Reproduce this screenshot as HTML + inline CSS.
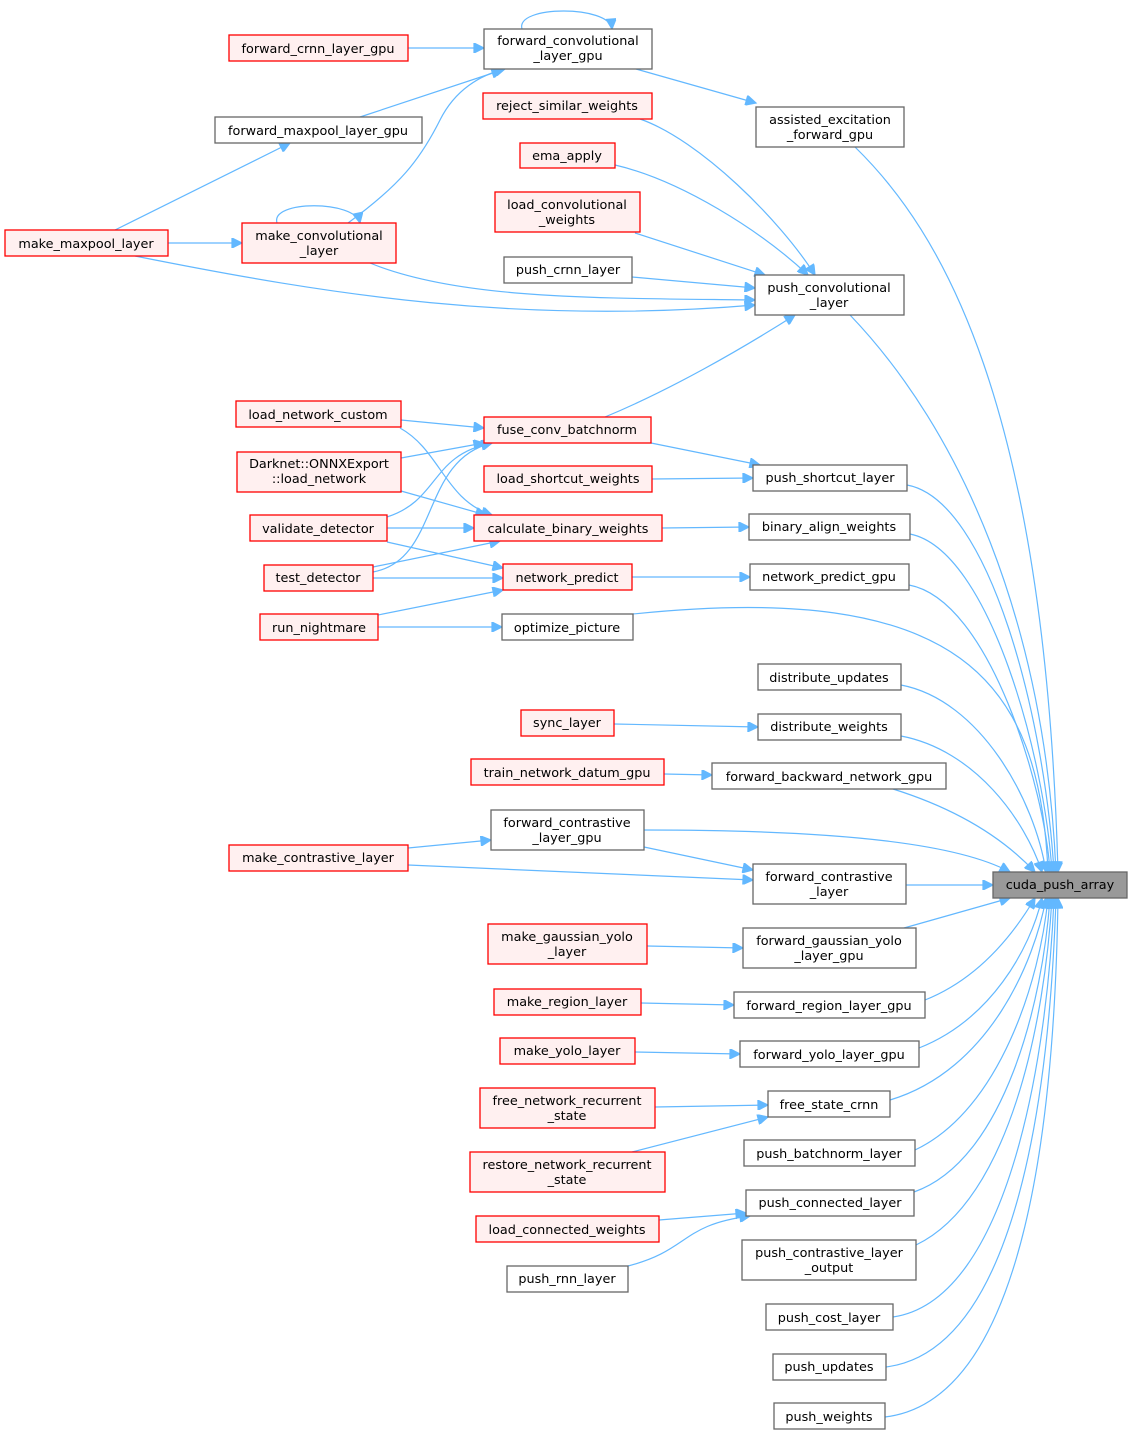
<!DOCTYPE html>
<html><head><meta charset="utf-8"><style>
html,body{margin:0;padding:0;background:#fff;}
svg text{font-family:"DejaVu Sans","Liberation Sans",sans-serif;font-size:12.8px;fill:#000;text-anchor:middle;}
.g{fill:#fff;stroke:#666;stroke-width:1.3}
.r{fill:#fff0f0;stroke:#f00;stroke-width:1.3}
.c{fill:#999;stroke:#666;stroke-width:1.3}
path{fill:none;stroke:#63b8ff;stroke-width:1.2;marker-end:url(#a)}
</style></head><body>
<svg width="1132" height="1435" viewBox="0 0 1132 1435" xmlns="http://www.w3.org/2000/svg">
<defs><marker id="a" viewBox="0 0 10 10" refX="10" refY="5" markerWidth="13" markerHeight="10" markerUnits="userSpaceOnUse" orient="auto"><path d="M0,0 L10,5 L0,10 z" style="fill:#63b8ff;stroke:#63b8ff;marker-end:none"/></marker></defs>

<path d="M408,48 L484,48"/>
<path d="M360,117 L502,70"/>
<path d="M522,29 C515,5 610,5 612,29"/>
<path d="M636,69 L756,103"/>
<path d="M115,230 L290,143"/>
<path d="M168,243 L242,243"/>
<path d="M277,223 C270,200 355,200 360,223"/>
<path d="M348,223 C400,185 420,160 440,120 C455,90 480,75 505,69"/>
<path d="M135,256 C330,295 520,325 755,305"/>
<path d="M370,263 C460,300 600,298 755,300"/>
<path d="M640,119 C700,140 780,220 815,275"/>
<path d="M615,165 C680,180 760,230 808,275"/>
<path d="M635,233 L765,275"/>
<path d="M632,277 L755,288"/>
<path d="M605,417 C670,390 740,350 795,315"/>
<path d="M401,420 L484,428"/>
<path d="M400,428 C440,450 445,500 492,515"/>
<path d="M401,458 L484,443"/>
<path d="M401,491 L486,515"/>
<path d="M387,517 C440,500 430,455 492,443"/>
<path d="M387,528 L474,528"/>
<path d="M387,542 L503,568"/>
<path d="M373,567 L500,541"/>
<path d="M373,572 C440,560 420,460 492,443"/>
<path d="M373,578 L503,578"/>
<path d="M378,615 L503,590"/>
<path d="M378,627 L502,627"/>
<path d="M651,443 L760,465"/>
<path d="M652,479 L753,478"/>
<path d="M662,528 L749,527"/>
<path d="M632,577 L750,577"/>
<path d="M614,724 L758,727"/>
<path d="M664,774 L712,775"/>
<path d="M408,848 L491,840"/>
<path d="M408,865 L753,880"/>
<path d="M644,847 L753,870"/>
<path d="M647,946 L743,948"/>
<path d="M641,1003 L734,1005"/>
<path d="M635,1052 L740,1054"/>
<path d="M655,1107 L768,1105"/>
<path d="M632,1152 L768,1117"/>
<path d="M659,1220 L746,1213"/>
<path d="M628,1266 C690,1250 680,1225 750,1216"/>

<path d="M855,147 C940,230 1045,400 1058,872"/>
<path d="M850,315 C960,430 1045,620 1056,872"/>
<path d="M907,485 C990,500 1045,720 1054,872"/>
<path d="M910,534 C990,550 1045,760 1052,872"/>
<path d="M909,585 C990,600 1045,790 1050,872"/>
<path d="M633,614 C960,580 1040,680 1048,872"/>
<path d="M901,685 C980,700 1035,800 1046,872"/>
<path d="M901,736 C975,750 1025,820 1042,872"/>
<path d="M893,789 C960,810 1005,840 1035,872"/>
<path d="M644,830 C850,830 960,845 1010,872"/>
<path d="M906,885 L993,885"/>
<path d="M904,928 L1010,898"/>
<path d="M925,1000 C975,980 1010,940 1035,898"/>
<path d="M919,1048 C990,1020 1030,950 1042,898"/>
<path d="M890,1100 C990,1070 1035,960 1046,898"/>
<path d="M915,1150 C1000,1110 1040,980 1048,898"/>
<path d="M914,1192 C1005,1160 1043,1000 1050,898"/>
<path d="M916,1245 C1010,1200 1045,1020 1052,898"/>
<path d="M893,1317 C1010,1300 1048,1050 1054,898"/>
<path d="M886,1367 C1020,1350 1050,1080 1056,898"/>
<path d="M885,1417 C1030,1400 1055,1100 1058,898"/>

<rect class="r" x="5" y="230" width="163" height="26"/><text x="86" y="248">make_maxpool_layer</text>
<rect class="r" x="236" y="401" width="165" height="26"/><text x="318" y="419">load_network_custom</text>
<rect class="r" x="237" y="452" width="164" height="40"/><text x="319" y="468">Darknet::ONNXExport</text><text x="319" y="483">::load_network</text>
<rect class="r" x="250" y="515" width="137" height="26"/><text x="318" y="533">validate_detector</text>
<rect class="r" x="264" y="565" width="109" height="26"/><text x="318" y="582">test_detector</text>
<rect class="r" x="260" y="614" width="118" height="26"/><text x="319" y="632">run_nightmare</text>
<rect class="r" x="229" y="845" width="179" height="26"/><text x="318" y="862">make_contrastive_layer</text>

<rect class="r" x="229" y="35" width="179" height="26"/><text x="318" y="53">forward_crnn_layer_gpu</text>
<rect class="g" x="215" y="117" width="207" height="26"/><text x="318" y="135">forward_maxpool_layer_gpu</text>
<rect class="r" x="242" y="223" width="154" height="40"/><text x="319" y="240">make_convolutional</text><text x="319" y="255">_layer</text>
<rect class="g" x="484" y="29" width="168" height="40"/><text x="568" y="45">forward_convolutional</text><text x="568" y="60">_layer_gpu</text>
<rect class="r" x="483" y="93" width="169" height="26"/><text x="567" y="110">reject_similar_weights</text>
<rect class="r" x="520" y="143" width="95" height="25"/><text x="567" y="160">ema_apply</text>
<rect class="r" x="495" y="192" width="145" height="40"/><text x="567" y="209">load_convolutional</text><text x="567" y="224">_weights</text>
<rect class="g" x="504" y="257" width="128" height="26"/><text x="568" y="274">push_crnn_layer</text>
<rect class="r" x="484" y="417" width="167" height="26"/><text x="567" y="434">fuse_conv_batchnorm</text>
<rect class="r" x="484" y="466" width="168" height="26"/><text x="568" y="483">load_shortcut_weights</text>
<rect class="r" x="474" y="515" width="188" height="26"/><text x="568" y="533">calculate_binary_weights</text>
<rect class="r" x="503" y="564" width="129" height="26"/><text x="567" y="582">network_predict</text>
<rect class="g" x="502" y="614" width="131" height="26"/><text x="567" y="632">optimize_picture</text>
<rect class="r" x="521" y="710" width="93" height="26"/><text x="567" y="727">sync_layer</text>
<rect class="r" x="471" y="759" width="193" height="26"/><text x="567" y="777">train_network_datum_gpu</text>
<rect class="g" x="491" y="810" width="153" height="40"/><text x="567" y="827">forward_contrastive</text><text x="567" y="842">_layer_gpu</text>
<rect class="r" x="488" y="924" width="159" height="40"/><text x="567" y="941">make_gaussian_yolo</text><text x="567" y="956">_layer</text>
<rect class="r" x="494" y="989" width="147" height="26"/><text x="567" y="1006">make_region_layer</text>
<rect class="r" x="500" y="1038" width="135" height="26"/><text x="567" y="1055">make_yolo_layer</text>
<rect class="r" x="480" y="1088" width="175" height="40"/><text x="567" y="1105">free_network_recurrent</text><text x="567" y="1120">_state</text>
<rect class="r" x="470" y="1152" width="195" height="40"/><text x="567" y="1169">restore_network_recurrent</text><text x="567" y="1184">_state</text>
<rect class="r" x="476" y="1216" width="183" height="26"/><text x="567" y="1234">load_connected_weights</text>
<rect class="g" x="507" y="1266" width="121" height="26"/><text x="567" y="1283">push_rnn_layer</text>

<rect class="g" x="756" y="107" width="148" height="40"/><text x="830" y="124">assisted_excitation</text><text x="830" y="139">_forward_gpu</text>
<rect class="g" x="755" y="275" width="149" height="40"/><text x="829" y="292">push_convolutional</text><text x="829" y="307">_layer</text>
<rect class="g" x="753" y="465" width="154" height="26"/><text x="830" y="482">push_shortcut_layer</text>
<rect class="g" x="749" y="514" width="161" height="26"/><text x="829" y="531">binary_align_weights</text>
<rect class="g" x="750" y="564" width="159" height="26"/><text x="829" y="581">network_predict_gpu</text>
<rect class="g" x="758" y="664" width="143" height="26"/><text x="829" y="682">distribute_updates</text>
<rect class="g" x="758" y="714" width="143" height="26"/><text x="829" y="731">distribute_weights</text>
<rect class="g" x="712" y="763" width="234" height="26"/><text x="829" y="781">forward_backward_network_gpu</text>
<rect class="g" x="753" y="864" width="153" height="40"/><text x="829" y="881">forward_contrastive</text><text x="829" y="896">_layer</text>
<rect class="g" x="743" y="928" width="173" height="40"/><text x="829" y="945">forward_gaussian_yolo</text><text x="829" y="960">_layer_gpu</text>
<rect class="g" x="734" y="992" width="191" height="26"/><text x="829" y="1010">forward_region_layer_gpu</text>
<rect class="g" x="740" y="1041" width="179" height="26"/><text x="829" y="1059">forward_yolo_layer_gpu</text>
<rect class="g" x="768" y="1091" width="122" height="26"/><text x="829" y="1109">free_state_crnn</text>
<rect class="g" x="744" y="1140" width="171" height="26"/><text x="829" y="1158">push_batchnorm_layer</text>
<rect class="g" x="746" y="1190" width="168" height="26"/><text x="830" y="1207">push_connected_layer</text>
<rect class="g" x="742" y="1240" width="174" height="40"/><text x="829" y="1257">push_contrastive_layer</text><text x="829" y="1272">_output</text>
<rect class="g" x="766" y="1304" width="127" height="26"/><text x="829" y="1322">push_cost_layer</text>
<rect class="g" x="773" y="1354" width="113" height="26"/><text x="829" y="1371">push_updates</text>
<rect class="g" x="774" y="1403" width="111" height="26"/><text x="829" y="1421">push_weights</text>

<rect class="c" x="993" y="872" width="134" height="26"/><text x="1060" y="889">cuda_push_array</text>
</svg>
</body></html>
